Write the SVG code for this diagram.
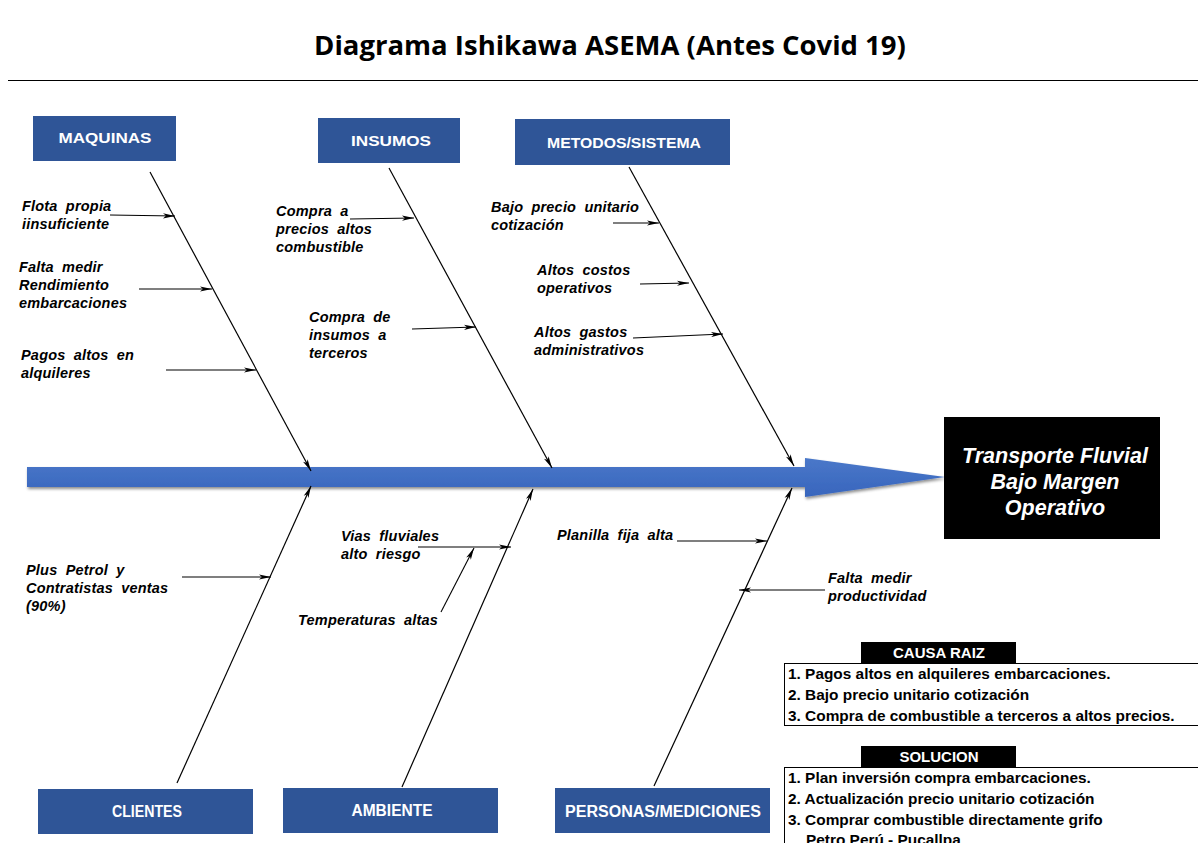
<svg xmlns="http://www.w3.org/2000/svg" width="1198" height="843" viewBox="0 0 1198 843">
  <defs>
    <style>
      .title { font-family: "Open Sans", "Liberation Sans", sans-serif; font-weight: 700; font-size: 27.5px; fill: #000; }
      .cat rect { fill: #2f5597; }
      .cat text { font-family: "Liberation Sans", Arial, sans-serif; font-weight: 700; font-size: 15px; fill: #fff; text-anchor: middle; }
      .cat text.low { font-size: 16px; }
      .cause { font-family: "Liberation Sans", Arial, sans-serif; font-weight: 700; font-style: italic; font-size: 14.5px; letter-spacing: 0.2px; word-spacing: 4px; fill: #000; }
      .bone { stroke: #000; stroke-width: 1.2; fill: none; marker-end: url(#head); }
      .sub { stroke: #000; stroke-width: 1.1; fill: none; marker-end: url(#head); }
      .effect text { font-family: "Liberation Sans", Arial, sans-serif; font-weight: 700; font-style: italic; font-size: 21.5px; fill: #fff; text-anchor: middle; }
      .hdr rect { fill: #000; }
      .hdr text { font-family: "Liberation Sans", Arial, sans-serif; font-weight: 700; font-size: 15px; fill: #fff; text-anchor: middle; }
      .list rect { fill: #fff; stroke: #000; stroke-width: 1; }
      .list text { font-family: "Liberation Sans", Arial, sans-serif; font-weight: 700; font-size: 15.4px; fill: #000; }
    </style>
    <marker id="head" viewBox="0 0 12 6" refX="12" refY="3" markerWidth="12" markerHeight="6" markerUnits="userSpaceOnUse" orient="auto">
      <path d="M0,0.4 L12,3 L0,5.6 L3,3 Z" fill="#000"/>
    </marker>
    <linearGradient id="spineFill" x1="0" y1="0" x2="0" y2="1">
      <stop offset="0" stop-color="#4a78c9"/>
      <stop offset="1" stop-color="#3865bd"/>
    </linearGradient>
    <filter id="shadow" x="-5%" y="-30%" width="110%" height="170%">
      <feDropShadow dx="1" dy="2" stdDeviation="1.5" flood-color="#000" flood-opacity="0.45"/>
    </filter>
  </defs>

  <rect x="0" y="0" width="1198" height="843" fill="#fff"/>

  <!-- heading -->
  <text class="title" x="610" y="55" text-anchor="middle">Diagrama Ishikawa ASEMA (Antes Covid 19)</text>
  <line x1="8" y1="80.5" x2="1198" y2="80.5" stroke="#000" stroke-width="1"/>

  <!-- main spine -->
  <g id="spine" filter="url(#shadow)">
    <path d="M27,467 L805,467 L805,458 L945,477 L805,497 L805,487 L27,487 Z" fill="url(#spineFill)"/>
  </g>

  <!-- effect -->
  <g id="effect" class="effect">
    <rect x="944" y="417" width="216" height="122" fill="#000"/>
    <text x="1055" y="463">Transporte Fluvial</text>
    <text x="1055" y="489">Bajo Margen</text>
    <text x="1055" y="515">Operativo</text>
  </g>

  <!-- category boxes -->
  <g id="maquinas" class="cat">
    <rect x="33" y="116" width="143" height="45"/>
    <text x="105" y="143" textLength="93" lengthAdjust="spacingAndGlyphs">MAQUINAS</text>
  </g>
  <g id="insumos" class="cat">
    <rect x="318" y="118" width="142" height="45"/>
    <text x="391" y="146" textLength="80" lengthAdjust="spacingAndGlyphs">INSUMOS</text>
  </g>
  <g id="metodos" class="cat">
    <rect x="515" y="119" width="215" height="46"/>
    <text x="624" y="148" textLength="154" lengthAdjust="spacingAndGlyphs">METODOS/SISTEMA</text>
  </g>
  <g id="clientes" class="cat">
    <rect x="38" y="789" width="215" height="45"/>
    <text class="low" x="147" y="817" textLength="70" lengthAdjust="spacingAndGlyphs">CLIENTES</text>
  </g>
  <g id="ambiente" class="cat">
    <rect x="283" y="788" width="215" height="45"/>
    <text class="low" x="392" y="816" textLength="81" lengthAdjust="spacingAndGlyphs">AMBIENTE</text>
  </g>
  <g id="personas" class="cat">
    <rect x="555" y="788" width="215" height="45"/>
    <text class="low" x="663" y="817" textLength="196" lengthAdjust="spacingAndGlyphs">PERSONAS/MEDICIONES</text>
  </g>

  <!-- bones and cause arrows -->
  <g id="connectors">
    <line class="bone" x1="150" y1="172" x2="311" y2="471"/>
    <line class="bone" x1="389" y1="168" x2="552" y2="468"/>
    <line class="bone" x1="629" y1="167" x2="794" y2="466"/>
    <line class="bone" x1="177" y1="783" x2="311" y2="486"/>
    <line class="bone" x1="402" y1="787" x2="533" y2="489"/>
    <line class="bone" x1="654" y1="786" x2="792" y2="488"/>

    <line class="sub" x1="110" y1="215" x2="175" y2="216"/>
    <line class="sub" x1="139" y1="289" x2="212" y2="289"/>
    <line class="sub" x1="166" y1="370" x2="256" y2="370"/>
    <line class="sub" x1="350" y1="219" x2="414" y2="218"/>
    <line class="sub" x1="412" y1="329" x2="476" y2="327"/>
    <line class="sub" x1="613" y1="223" x2="659" y2="223"/>
    <line class="sub" x1="640" y1="284" x2="689" y2="283"/>
    <line class="sub" x1="633" y1="338" x2="723" y2="334"/>
    <line class="sub" x1="182" y1="577" x2="271" y2="577"/>
    <line class="sub" x1="418" y1="547" x2="511" y2="547"/>
    <line class="sub" x1="441" y1="612" x2="474" y2="548"/>
    <line class="sub" x1="677" y1="541" x2="767" y2="541"/>
    <line class="sub" x1="825" y1="590" x2="739" y2="590"/>
  </g>

  <!-- cause labels -->
  <g id="causes" class="cause">
    <text x="22" y="211">Flota propia</text>
    <text x="22" y="229">iinsuficiente</text>
    <text x="19" y="272">Falta medir</text>
    <text x="19" y="290">Rendimiento</text>
    <text x="19" y="308">embarcaciones</text>
    <text x="21" y="360">Pagos altos en</text>
    <text x="21" y="378">alquileres</text>
    <text x="276" y="216">Compra a</text>
    <text x="276" y="234">precios altos</text>
    <text x="276" y="252">combustible</text>
    <text x="309" y="322">Compra de</text>
    <text x="309" y="340">insumos a</text>
    <text x="309" y="358">terceros</text>
    <text x="491" y="212">Bajo precio unitario</text>
    <text x="491" y="230">cotización</text>
    <text x="537" y="275">Altos costos</text>
    <text x="537" y="293">operativos</text>
    <text x="534" y="337">Altos gastos</text>
    <text x="534" y="355">administrativos</text>
    <text x="26" y="575">Plus Petrol y</text>
    <text x="26" y="593">Contratistas ventas</text>
    <text x="26" y="611">(90%)</text>
    <text x="341" y="541">Vias fluviales</text>
    <text x="341" y="559">alto riesgo</text>
    <text x="298" y="625">Temperaturas altas</text>
    <text x="557" y="540">Planilla fija alta</text>
    <text x="828" y="583">Falta medir</text>
    <text x="828" y="601">productividad</text>
  </g>

  <!-- root cause table -->
  <g id="causa-raiz">
    <g class="list">
      <rect x="784.5" y="663.5" width="420" height="62"/>
      <text x="788" y="679">1. Pagos altos en alquileres embarcaciones.</text>
      <text x="788" y="700">2. Bajo precio unitario cotización</text>
      <text x="788" y="721">3. Compra de combustible a terceros a altos precios.</text>
    </g>
    <g class="hdr">
      <rect x="861" y="642" width="155" height="21"/>
      <text x="939" y="658">CAUSA RAIZ</text>
    </g>
  </g>

  <!-- solution table -->
  <g id="solucion">
    <g class="list">
      <rect x="784.5" y="767.5" width="420" height="90"/>
      <text x="788" y="783">1. Plan inversión compra embarcaciones.</text>
      <text x="788" y="804">2. Actualización precio unitario cotización</text>
      <text x="788" y="825">3. Comprar combustible directamente grifo</text>
      <text x="806" y="845">Petro Perú - Pucallpa</text>
    </g>
    <g class="hdr">
      <rect x="861" y="746" width="155" height="21"/>
      <text x="939" y="762">SOLUCION</text>
    </g>
  </g>
</svg>
